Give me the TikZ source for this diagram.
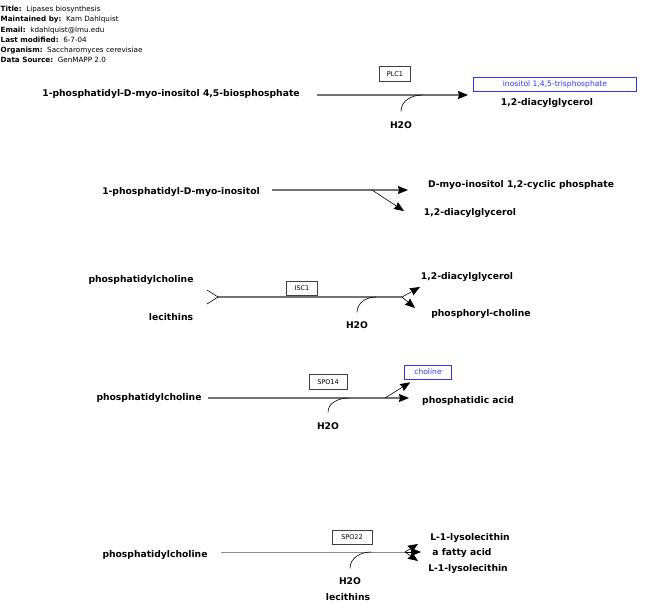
\documentclass[tikz,border=0pt]{standalone}
\usepackage{fontspec}
\setmainfont{DejaVu Sans}
\usetikzlibrary{arrows.meta, positioning}

\tikzset{
  metab/.style={font=\fontsize{9.2}{10}\selectfont\bfseries, inner sep=0pt},
  gene/.style={draw=black!75, line width=0.6pt, font=\fontsize{6.5}{7}\selectfont,
               minimum height=15pt, inner sep=1pt},
  prodbox/.style={draw=blue!80, line width=0.6pt, text=blue!80,
                  font=\fontsize{7.6}{8}\selectfont, minimum height=14pt, inner sep=1pt},
  rxn/.style={draw=black!55, line width=1.4pt,
              -{Stealth[length=10pt, width=8pt, inset=1pt, color=black]}},
  branch/.style={draw=black, line width=0.6pt, -{Stealth[length=10pt, width=8pt, inset=1pt]}},
  side/.style={draw=black, line width=0.6pt},
}

\begin{document}
\begin{tikzpicture}[x=1pt, y=-1pt]
  \useasboundingbox (0,0) rectangle (647,614);

  % Header
  \node[anchor=north west, align=left, inner sep=0pt,
        font=\fontsize{7.2}{10.2}\selectfont] (info) at (0.5,6)
    {\textbf{Title:}~~Lipases biosynthesis\\
     \textbf{Maintained by:}~~Kam Dahlquist\\
     \textbf{Email:}~~kdahlquist@lmu.edu\\
     \textbf{Last modified:}~~6-7-04\\
     \textbf{Organism:}~~Saccharomyces cerevisiae\\
     \textbf{Data Source:}~~GenMAPP 2.0};

  % PLC1 reaction
  \node[metab] (pip2) at (171,94) {1-phosphatidyl-D-myo-inositol 4,5-biosphosphate};
  \node[gene, minimum width=31pt] (plc1) at (395,74) {PLC1};
  \node[prodbox, minimum width=163pt] (ip3) at (555,84) {inositol 1,4,5-trisphosphate};
  \node[metab] (dagA) at (547,103) {1,2-diacylglycerol};
  \node[metab] (waterA) at (401,125) {H2O};
  \coordinate (plcIn) at (317,95);
  \coordinate (plcOut) at (468,95);
  \coordinate (plcJoin) at (422,95);
  \draw[rxn] (plcIn) -- (plcOut);
  \draw[side] ([yshift=10pt]waterA.north) to[out=90, in=180] (plcJoin);

  % PI reaction
  \node[metab] (pi) at (181,192) {1-phosphatidyl-D-myo-inositol};
  \node[metab] (cip) at (521,185) {D-myo-inositol 1,2-cyclic phosphate};
  \node[metab] (dagB) at (470,213) {1,2-diacylglycerol};
  \coordinate (piIn) at (272,190);
  \coordinate (piOut) at (408,190);
  \coordinate (piFork) at (372,190);
  \coordinate (piDag) at (404,211);
  \draw[rxn] (piIn) -- (piOut);
  \draw[branch] (piFork) -- (piDag);

  % ISC1 reaction
  \node[metab] (pcA) at (141,280) {phosphatidylcholine};
  \node[metab] (lecA) at (171,317) {lecithins};
  \node[gene, minimum width=31pt, minimum height=14pt] (isc1) at (302,288) {ISC1};
  \node[metab] (dagC) at (467,277) {1,2-diacylglycerol};
  \node[metab] (pcho) at (481,314) {phosphoryl-choline};
  \node[metab] (waterC) at (357,325) {H2O};
  \coordinate (iscIn) at (218,297);
  \coordinate (iscOut) at (402,297);
  \coordinate (iscJoin) at (376,297);
  \draw[draw=black!55, line width=1.4pt] (iscIn) -- (iscOut);
  \draw[side] (207,290) -- (iscIn) -- (207,304);
  \draw[branch] (iscOut) -- (420,287);
  \draw[branch] (iscOut) -- (415,308);
  \draw[side] ([yshift=9pt]waterC.north) to[out=90, in=180] (iscJoin);

  % SPO14 reaction
  \node[metab] (pcB) at (149,398) {phosphatidylcholine};
  \node[gene, minimum width=38pt] (spo14) at (328,382) {SPO14};
  \node[prodbox, minimum width=47pt] (cho) at (428,372) {choline};
  \node[metab] (pa) at (468,401) {phosphatidic acid};
  \node[metab] (waterD) at (328,426) {H2O};
  \coordinate (spoIn) at (208,398);
  \coordinate (spoOut) at (409,398);
  \coordinate (spoFork) at (385,398);
  \coordinate (spoJoin) at (349,398);
  \draw[rxn] (spoIn) -- (spoOut);
  \draw[branch] (spoFork) -- ([xshift=6pt, yshift=-3pt]cho.south west);
  \draw[side] ([yshift=10pt]waterD.north) to[out=90, in=180] (spoJoin);

  % SPO22 reaction
  \node[metab] (pcC) at (155,555) {phosphatidylcholine};
  \node[gene, minimum width=40pt, minimum height=14pt] (spo22) at (352,537) {SPO22};
  \node[metab] (lysoA) at (470,538) {L-1-lysolecithin};
  \node[metab] (fa) at (462,553) {a fatty acid};
  \node[metab] (lysoB) at (468,569) {L-1-lysolecithin};
  \node[metab] (waterE) at (350,581) {H2O};
  \node[metab] (lecE) at (348,597) {lecithins};
  \coordinate (lipIn) at (221,552);
  \coordinate (lipOut) at (405,552);
  \coordinate (lipJoin) at (371,552);
  \draw[draw=black!45, line width=0.7pt] (lipIn) -- (lipOut);
  \draw[branch] (lipOut) -- (418,544);
  \draw[branch] (lipOut) -- (421,552);
  \draw[branch] (lipOut) -- (418,561);
  \draw[side] ([yshift=9pt]waterE.north) to[out=90, in=180] (lipJoin);
\end{tikzpicture}
\end{document}
